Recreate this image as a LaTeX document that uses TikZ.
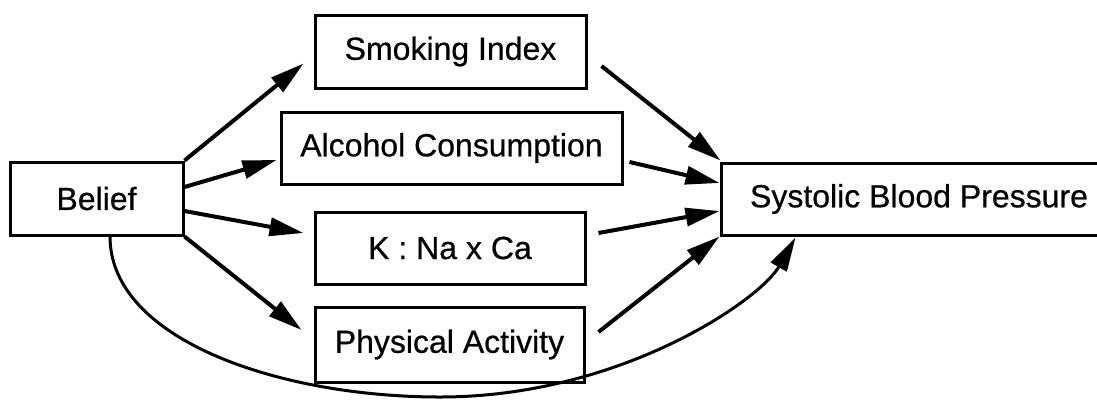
\documentclass[tikz,border=0pt]{standalone}
\usepackage{fontspec}
\setmainfont{Liberation Sans}
\newfontfamily\heavysans{Liberation Sans}[FakeBold=0.6]
\usetikzlibrary{arrows.meta,calc}
\begin{document}
\begin{tikzpicture}[x=1pt,y=-1pt,
  box/.style={draw,line width=3pt,inner sep=0pt,font=\heavysans\fontsize{32}{38}\selectfont},
  link/.style={line width=4pt,-{Triangle[length=34pt,width=18pt]}},
  loop/.style={line width=3pt,-{Triangle[length=34pt,width=18pt]}}]
\useasboundingbox (0,0) rectangle (1097,400);
\clip (0,0) rectangle (1097,400);

% variables
\node[box,minimum width=173pt,minimum height=73pt] (belief) at (96.5,198.5) {Belief};
\node[box,minimum width=271pt,minimum height=73pt] (smoke) at (450.5,51.5) {Smoking Index};
\node[box,minimum width=341pt,minimum height=72pt] (alc) at (451.5,148) {Alcohol Consumption};
\node[box,minimum width=270pt,minimum height=72pt] (kna) at (450,248) {K : Na x Ca};
\node[box,minimum width=269pt,minimum height=75pt] (pa) at (449.5,344.5) {Physical Activity};
\node[box,minimum width=396pt,minimum height=72pt] (sbp) at (919,199) {Systolic Blood Pressure};

% paths from belief to the mediators
\draw[link] (belief.north east) -- ($(smoke.west)+(-10,12)$);
\draw[link] ($(belief.east)+(0,-11.5)$) -- ($(alc.west)+(-3,12)$);
\draw[link] ($(belief.east)+(0,12.5)$) -- ($(kna.west)+(-10,-15)$);
\draw[link] (belief.south east) -- ($(pa.west)+(-12,-14.5)$);

% paths from the mediators to blood pressure
\draw[link] ($(smoke.east)+(14,14.5)$) -- ($(sbp.north west)+(1,-1)$);
\draw[link] ($(alc.east)+(6,14)$) -- ($(sbp.west)+(0,-16)$);
\draw[link] ($(kna.east)+(12,-15)$) -- ($(sbp.west)+(0,12)$);
\draw[link] ($(pa.east)+(13,-12.5)$) -- (sbp.south west);

% direct effect
\coordinate (low) at (440,397);
\draw[loop] ($(belief.south)+(13.5,0)$) .. controls (110,340) and (280,397) .. (low)
  .. controls (620,397) and (760,300) .. ($(sbp.south west)+(76,1)$);
\end{tikzpicture}
\end{document}
